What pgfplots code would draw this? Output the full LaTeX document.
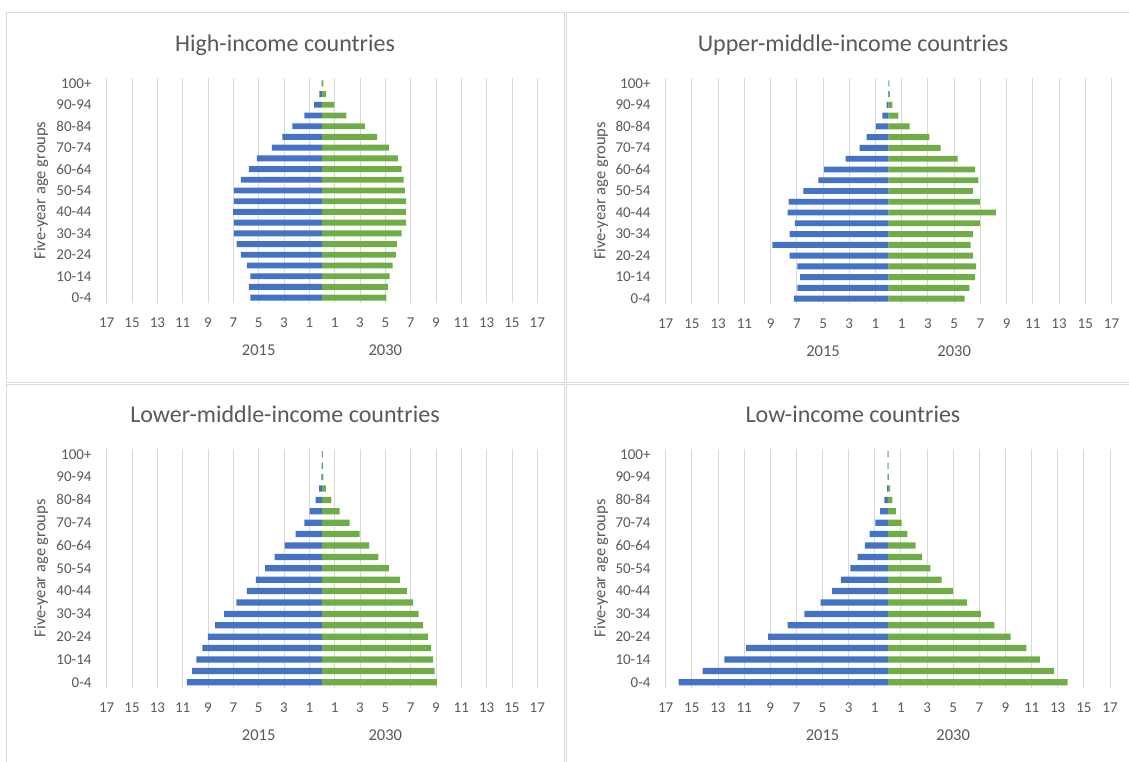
\documentclass[border=0pt]{standalone}
\usepackage{pgfplots}
\pgfplotsset{compat=1.18}
\usepackage{pgfplotstable}
\usepackage{fontspec}
\setmainfont{Carlito}
\definecolor{xlblue}{HTML}{4472C4}
\definecolor{xlgreen}{HTML}{70AD47}
\definecolor{txt}{HTML}{595959}
\definecolor{gridc}{HTML}{D9D9D9}

% idx: 0 = 0-4, 1 = 5-9, ..., 20 = 100+ ; 2015 plotted negative, 2030 positive
\pgfplotstableread{
idx y2015 y2030
0 -5.66 5.09
1 -5.77 5.20
2 -5.66 5.34
3 -5.94 5.57
4 -6.40 5.83
5 -6.74 5.91
6 -6.96 6.28
7 -6.96 6.65
8 -7.02 6.65
9 -6.96 6.65
10 -6.96 6.54
11 -6.40 6.45
12 -5.77 6.28
13 -5.14 6.00
14 -3.95 5.29
15 -3.13 4.35
16 -2.33 3.38
17 -1.39 1.93
18 -0.63 0.97
19 -0.20 0.31
20 -0.03 0.10
}\hightab

\pgfplotstableread{
idx y2015 y2030
0 -7.22 5.79
1 -6.95 6.15
2 -6.75 6.59
3 -6.95 6.67
4 -7.55 6.42
5 -8.86 6.26
6 -7.55 6.42
7 -7.14 6.97
8 -7.71 8.18
9 -7.63 6.97
10 -6.51 6.42
11 -5.36 6.84
12 -4.92 6.59
13 -3.27 5.27
14 -2.21 3.96
15 -1.68 3.11
16 -0.97 1.60
17 -0.48 0.75
18 -0.15 0.29
19 -0.03 0.10
20 -0.01 0.06
}\uppertab

\pgfplotstableread{
idx y2015 y2030
0 -10.66 9.07
1 -10.26 8.90
2 -9.92 8.78
3 -9.44 8.61
4 -9.01 8.36
5 -8.44 7.99
6 -7.73 7.62
7 -6.77 7.19
8 -5.94 6.71
9 -5.23 6.17
10 -4.49 5.29
11 -3.75 4.46
12 -2.96 3.72
13 -2.08 2.98
14 -1.39 2.19
15 -0.97 1.39
16 -0.51 0.74
17 -0.23 0.31
18 -0.05 0.10
19 -0.02 0.08
20 -0.01 0.07
}\lowermidtab

\pgfplotstableread{
idx y2015 y2030
0 -16.01 13.76
1 -14.17 12.71
2 -12.52 11.64
3 -10.84 10.60
4 -9.17 9.39
5 -7.68 8.15
6 -6.39 7.11
7 -5.15 6.04
8 -4.27 4.99
9 -3.59 4.11
10 -2.87 3.26
11 -2.32 2.62
12 -1.75 2.13
13 -1.39 1.50
14 -0.95 1.06
15 -0.59 0.62
16 -0.26 0.34
17 -0.05 0.18
18 -0.02 0.08
19 -0.01 0.06
20 -0.01 0.05
}\lowtab

\newcommand{\tickfont}{\fontsize{15}{18}\selectfont}
\newcommand{\axtfont}{\fontsize{16.5}{20}\selectfont}
\newcommand{\titfont}{\fontsize{24}{28}\selectfont}

\tikzset{yrs/.style={font=\axtfont, text=txt, anchor=base}}

\pgfplotsset{
  pyr/.style={
    scale only axis,
    anchor=south west,
    xmin=-17, xmax=17, ymin=-0.5, ymax=20.5,
    xtick={-17,-15,...,17},
    xticklabels={17,15,13,11,9,7,5,3,1,1,3,5,7,9,11,13,15,17},
    ytick={0,2,...,20},
    yticklabels={0-4,10-14,20-24,30-34,40-44,50-54,60-64,70-74,80-84,90-94,100+},
    xmajorgrids,
    major grid style={draw=gridc, line width=0.9pt},
    axis line style={draw=none},
    major tick length=0pt,
    xticklabel style={font=\tickfont, text=txt, anchor=base, inner sep=0pt, yshift=-24.7pt},
    yticklabel style={font=\tickfont, text=txt, anchor=east, inner sep=0pt, xshift=-15pt},
    xbar, bar shift=0pt, bar width=0.55,
    clip=false,
  },
}

\begin{document}
\begin{tikzpicture}
\useasboundingbox (0pt,0pt) rectangle (1129pt,-762pt);
\fill[white] (0pt,0pt) rectangle (1129pt,-762pt);
\clip (0pt,0pt) rectangle (1129pt,-762pt);
% panel frames
\draw[gridc, line width=1pt] (6pt,-13pt) rectangle (564pt,-382pt);
\draw[gridc, line width=1pt] (566pt,-13pt) rectangle (1145pt,-382pt);
\draw[gridc, line width=1pt] (6pt,-384pt) rectangle (564pt,-775pt);
\draw[gridc, line width=1pt] (566pt,-384pt) rectangle (1145pt,-775pt);

% titles
\node[font=\titfont, text=txt, anchor=base] at (285pt,-51.7pt) {High-income countries};
\node[font=\titfont, text=txt, anchor=base] at (853pt,-51.7pt) {Upper-middle-income countries};
\node[font=\titfont, text=txt, anchor=base] at (285pt,-422pt) {Lower-middle-income countries};
\node[font=\titfont, text=txt, anchor=base] at (853pt,-422pt) {Low-income countries};

% y-axis titles
\node[font=\axtfont, text=txt, rotate=90] at (41pt,-190.5pt) {Five-year age groups};
\node[font=\axtfont, text=txt, rotate=90] at (601pt,-191pt) {Five-year age groups};
\node[font=\axtfont, text=txt, rotate=90] at (41pt,-568.3pt) {Five-year age groups};
\node[font=\axtfont, text=txt, rotate=90] at (601pt,-568.3pt) {Five-year age groups};

% High-income
\begin{axis}[pyr, at={(106.7pt,-303pt)}, width=430.6pt, height=225pt]
\addplot[fill=xlblue, draw=none] table[x=y2015, y=idx] {\hightab};
\addplot[fill=xlgreen, draw=none] table[x=y2030, y=idx] {\hightab};
\node[yrs] at (axis cs:-5,-0.5) [yshift=-52.2pt] {2015};
\node[yrs] at (axis cs:5,-0.5) [yshift=-52.2pt] {2030};
\end{axis}

% Upper-middle-income
\begin{axis}[pyr, at={(665.7pt,-304pt)}, width=445.8pt, height=226pt]
\addplot[fill=xlblue, draw=none] table[x=y2015, y=idx] {\uppertab};
\addplot[fill=xlgreen, draw=none] table[x=y2030, y=idx] {\uppertab};
\node[yrs] at (axis cs:-5,-0.5) [yshift=-52.2pt] {2015};
\node[yrs] at (axis cs:5,-0.5) [yshift=-52.2pt] {2030};
\end{axis}

% Lower-middle-income
\begin{axis}[pyr, at={(106.7pt,-688pt)}, width=430.6pt, height=239.4pt]
\addplot[fill=xlblue, draw=none] table[x=y2015, y=idx] {\lowermidtab};
\addplot[fill=xlgreen, draw=none] table[x=y2030, y=idx] {\lowermidtab};
\node[yrs] at (axis cs:-5,-0.5) [yshift=-52.2pt] {2015};
\node[yrs] at (axis cs:5,-0.5) [yshift=-52.2pt] {2030};
\end{axis}

% Low-income
\begin{axis}[pyr, at={(665.7pt,-688pt)}, width=444.3pt, height=239.4pt]
\addplot[fill=xlblue, draw=none] table[x=y2015, y=idx] {\lowtab};
\addplot[fill=xlgreen, draw=none] table[x=y2030, y=idx] {\lowtab};
\node[yrs] at (axis cs:-5,-0.5) [yshift=-52.2pt] {2015};
\node[yrs] at (axis cs:5,-0.5) [yshift=-52.2pt] {2030};
\end{axis}
\end{tikzpicture}
\end{document}
